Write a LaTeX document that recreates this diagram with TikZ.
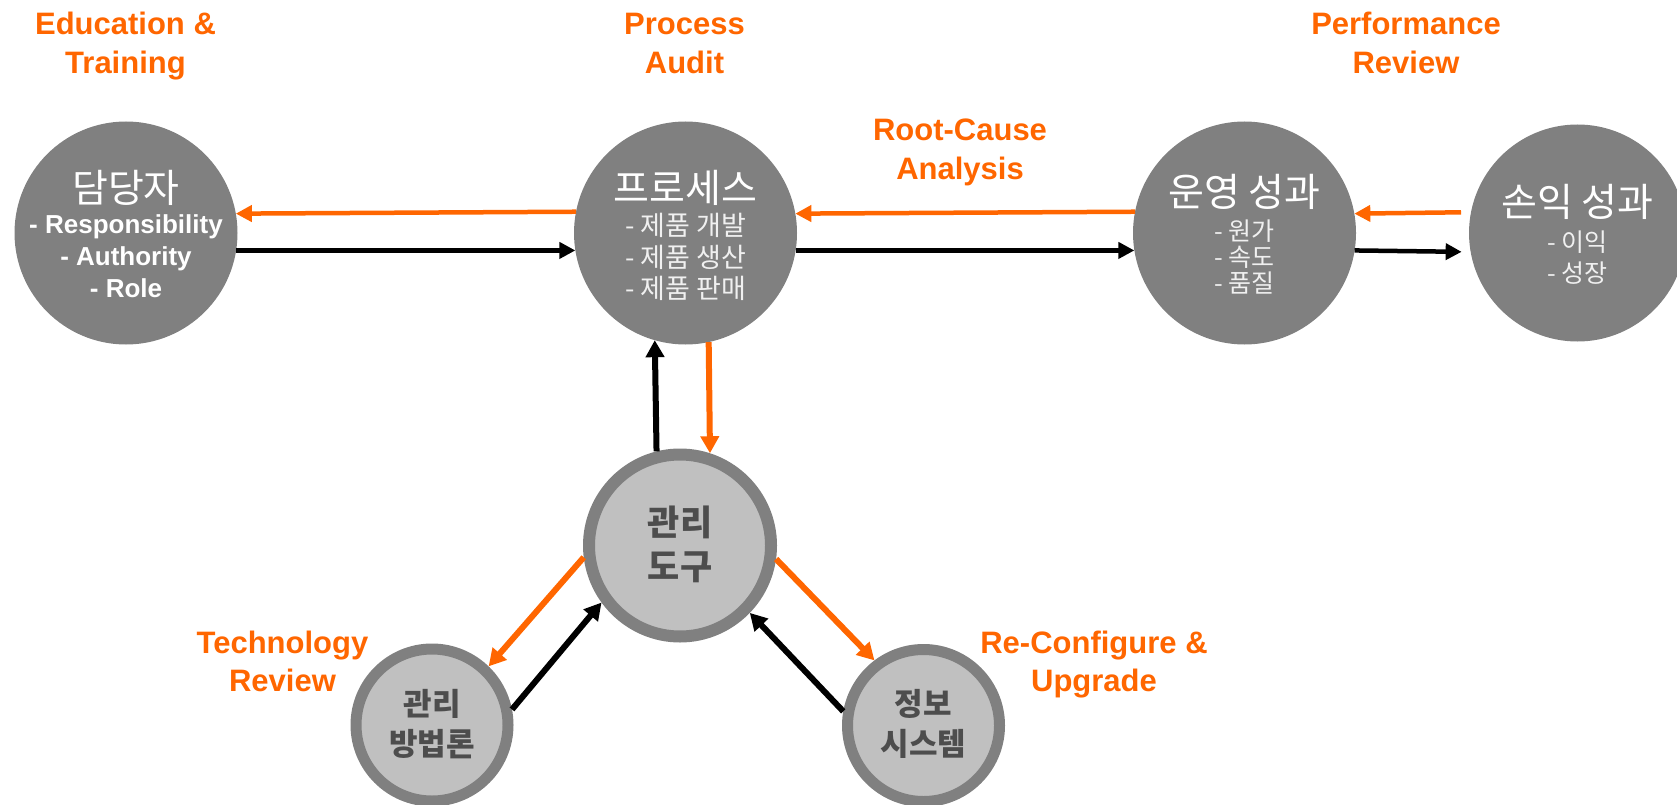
\documentclass[tikz,border=0pt]{standalone}
\usepackage{fontspec}
\setmainfont{Liberation Sans}
\newfontfamily\kr{Noto Sans CJK KR}
\usetikzlibrary{arrows.meta}
\definecolor{org}{HTML}{FF6600}
\definecolor{cgray}{HTML}{808080}
\definecolor{clight}{HTML}{C0C0C0}
\definecolor{ctext}{HTML}{4D4D4D}
\definecolor{csub}{HTML}{F0F0F0}
\newcommand\myfs[2]{\fontsize{#1}{#2}\selectfont}
\begin{document}
\begin{tikzpicture}[x=1pt,y=-1pt,
  bigc/.style={circle, fill=cgray, inner sep=0pt, outer sep=0pt, minimum size=#1},
  ringc/.style={circle, fill=clight, draw=cgray, line width=11pt, inner sep=0pt, minimum size=#1},
  ln/.style={anchor=base, inner sep=0pt, outer sep=0pt},
  lbl/.style={ln, text=org, font=\myfs{31}{38}\bfseries},
  ttl/.style={ln, text=white, font=\kr\myfs{39}{46}},
  subk/.style={ln, text=csub, font=\kr\myfs{#1}{30}},
  sube/.style={ln, text=white, font=\myfs{26}{32}\bfseries},
  tool/.style={ln, text=ctext, font=\kr\myfs{#1}{40}\bfseries},
  oarr/.style={draw=org, line width=4.5pt, -{Triangle[length=16pt,width=16pt]}},
  barr/.style={draw=black, line width=4.5pt, -{Triangle[length=16pt,width=16pt]}},
  oarrv/.style={draw=org, line width=6pt, -{Triangle[length=17pt,width=18pt]}},
  barrv/.style={draw=black, line width=6pt, -{Triangle[length=17pt,width=18pt]}}
]
\useasboundingbox (0,0) rectangle (1677,805);

% circles
\node[bigc=223pt] (person) at (126,233) {};
\node[bigc=223pt] (proc) at (685.5,233) {};
\node[bigc=223pt] (ops) at (1244.5,233) {};
\node[bigc=217pt] (pl) at (1577.5,233) {};
\node[ringc=182pt, line width=12pt] (tools) at (680,545.5) {};
\node[ringc=152pt] (method) at (432,725) {};
\node[ringc=152pt] (info) at (923.5,725.5) {};

% texts in circles
\node[ttl] (personT) at (126,203) {담당자};
\node[sube] (personA) at (126,233) {- Responsibility};
\node[sube] (personB) at (126,265.5) {- Authority};
\node[sube] (personC) at (126,297.5) {- Role};

\node[ttl] (procT) at (685.5,202) {프로세스};
\node[subk=27] (procA) at (685.5,235) {- 제품 개발};
\node[subk=27] (procB) at (685.5,267) {- 제품 생산};
\node[subk=27] (procC) at (685.5,298.5) {- 제품 판매};

\node[ttl] (opsT) at (1244.5,207) {운영 성과};
\node[subk=25] (opsA) at (1244.5,240.5) {- 원가};
\node[subk=25] (opsB) at (1244.5,266.5) {- 속도};
\node[subk=25] (opsC) at (1244.5,292.5) {- 품질};

\node[ttl] (plT) at (1577.5,216.5) {손익 성과};
\node[subk=25] (plA) at (1577.5,251) {- 이익};
\node[subk=25] (plB) at (1577.5,282) {- 성장};

\node[tool=35] (toolsA) at (680,535) {관리};
\node[tool=35] (toolsB) at (680,579) {도구};
\node[tool=31] (methodA) at (432,715) {관리};
\node[tool=31] (methodB) at (432,755) {방법론};
\node[tool=31] (infoA) at (923.5,715) {정보};
\node[tool=31] (infoB) at (923.5,755) {시스템};

% labels
\node[lbl] (eduA) at (125.5,35) {Education \&};
\node[lbl] (eduB) at (125.5,74) {Training};
\node[lbl] (audA) at (684.5,35) {Process};
\node[lbl] (audB) at (684.5,74) {Audit};
\node[lbl] (perfA) at (1406,35) {Performance};
\node[lbl] (perfB) at (1406,74) {Review};
\node[lbl] (rootA) at (960,141) {Root-Cause};
\node[lbl] (rootB) at (960,180) {Analysis};
\node[lbl] (techA) at (282.5,653) {Technology};
\node[lbl] (techB) at (282.5,691) {Review};
\node[lbl] (reA) at (1094,653) {Re-Configure \&};
\node[lbl] (reB) at (1094,691) {Upgrade};

% horizontal connectors
\draw[oarr] (proc.169.7) -- (person.10.3);
\draw[barr] (person.-9.8) -- (proc.189.8);
\draw[oarr] (ops.169.7) -- (proc.10.3);
\draw[barr] (proc.-9.8) -- (ops.189.8);
\draw[oarr] ([xshift=-10pt]pl.169.4) -- (ops.10.3);
\draw[barr] (ops.-9.8) -- ([xshift=-9pt]pl.190.1);

% vertical connectors
\draw[barrv] (tools.104.9) -- (proc.254.1);
\draw[oarrv] (proc.282.2) -- (tools.72.6);

% diagonal connectors
\draw[oarrv] (tools.187.6) -- (method.46.4);
\draw[barrv] (method.11.5) -- (tools.216);
\draw[oarrv] (tools.352.7) -- (info.127.4);
\draw[barrv] (info.170) -- (tools.316.7);
\end{tikzpicture}
\end{document}
